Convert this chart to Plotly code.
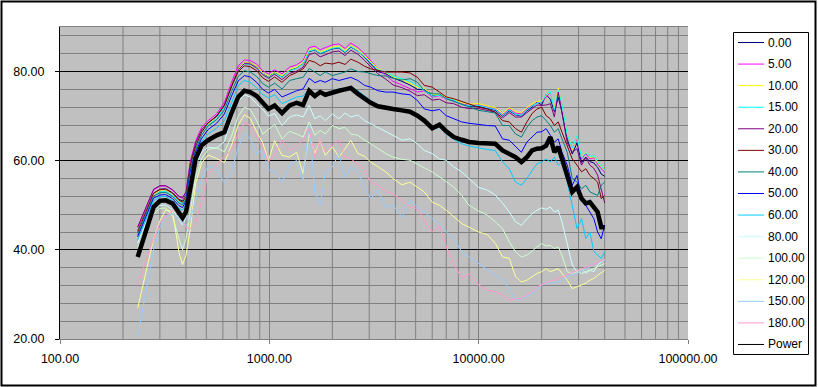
import plotly.graph_objects as go

# ---------------- data ----------------
freq = [235, 260, 280, 300, 320, 345, 370, 385, 400, 420,
        445, 475, 510, 560, 610, 660, 710, 760, 810, 870,
        930, 990, 1060, 1150, 1250, 1350, 1450, 1550, 1650, 1750,
        1850, 2000, 2150, 2300, 2450, 2650, 2850, 3050, 3300, 3600,
        3900, 4300, 4700, 5100, 5500, 6000, 6500, 7000, 7600, 8300,
        9000, 10000, 11000, 12000, 13000, 14000, 15000, 16000, 17000, 18000,
        19000, 20000, 21000, 22000, 23000, 24000, 25000, 26500, 28000, 29500,
        31000, 32500, 34000, 35500, 37000, 38500, 40000]

s_000 = [44.3, 49.3, 52.7, 53.6, 53.7, 52.8, 51.3, 51.0, 52.4, 59.4,
         64.0, 66.9, 68.4, 70.0, 72.5, 77.0, 80.7, 82.0, 81.9, 81.1,
         79.6, 78.9, 79.8, 78.8, 80.3, 80.8, 81.8, 84.5, 84.8, 84.0,
         84.5, 85.1, 85.3, 84.3, 85.5, 84.6, 83.2, 81.8, 80.0, 79.5,
         78.6, 77.8, 77.0, 76.0, 76.0, 74.6, 74.8, 74.0, 73.5, 72.7,
         72.2, 72.2, 71.7, 71.3, 70.0, 71.2, 70.3, 70.0, 71.2, 72.0,
         73.2, 72.5, 74.8, 73.8, 71.0, 74.2, 71.0, 64.8, 61.5, 64.0,
         59.6, 60.8, 59.8, 59.5, 58.5, 57.0, 56.5]

s_005 = [45.1, 50.0, 53.4, 54.3, 54.3, 53.4, 51.9, 51.6, 53.0, 60.0,
         64.5, 67.5, 69.0, 70.5, 73.1, 77.6, 81.3, 82.6, 82.5, 81.7,
         80.2, 79.5, 80.4, 79.5, 81.0, 81.5, 82.5, 85.4, 85.7, 84.9,
         85.4, 86.0, 86.2, 85.2, 86.4, 85.4, 84.0, 82.5, 80.6, 79.2,
         77.8, 77.0, 76.1, 75.4, 75.7, 74.3, 74.6, 73.9, 73.5, 72.8,
         72.4, 72.5, 72.0, 71.6, 70.3, 71.6, 70.7, 70.5, 71.6, 72.4,
         73.0, 73.1, 74.3, 75.4, 71.6, 76.1, 72.4, 65.7, 62.7, 64.9,
         60.4, 61.6, 60.4, 60.7, 59.3, 58.2, 57.5]

s_010 = [44.0, 49.0, 52.5, 53.4, 53.5, 52.6, 51.0, 50.7, 52.2, 59.2,
         63.8, 66.8, 68.3, 69.8, 72.4, 76.9, 80.6, 82.0, 81.9, 81.2,
         79.7, 79.0, 79.9, 79.0, 80.5, 81.0, 82.0, 84.9, 85.2, 84.4,
         84.9, 85.5, 85.7, 84.7, 85.9, 84.9, 83.6, 82.2, 80.6, 79.8,
         78.8, 78.2, 77.4, 76.5, 76.2, 74.8, 74.9, 74.2, 73.8, 73.0,
         72.7, 72.8, 72.3, 71.9, 70.6, 71.9, 71.0, 70.8, 71.9, 72.8,
         73.3, 73.4, 74.6, 75.6, 71.9, 76.3, 72.6, 66.0, 62.5, 65.4,
         60.8, 61.9, 60.7, 61.0, 59.6, 58.6, 57.8]

s_015 = [43.6, 48.6, 52.1, 53.0, 53.1, 52.2, 50.7, 50.4, 51.9, 58.9,
         63.5, 66.5, 68.0, 69.5, 72.1, 76.6, 80.3, 81.7, 81.6, 80.9,
         79.4, 78.7, 79.6, 78.7, 80.2, 80.7, 81.7, 84.6, 84.9, 84.1,
         84.6, 85.2, 85.4, 84.4, 85.6, 84.6, 83.3, 81.9, 80.4, 79.9,
         79.0, 78.4, 77.8, 76.8, 75.8, 74.5, 74.7, 74.0, 73.6, 72.6,
         72.3, 72.4, 71.9, 71.5, 70.1, 71.4, 70.4, 70.2, 71.4, 72.3,
         72.9, 73.2, 74.8, 75.6, 71.4, 75.8, 72.6, 65.9, 62.8, 65.6,
         60.6, 61.8, 60.9, 61.2, 59.8, 58.8, 57.9]

s_020 = [45.1, 50.2, 53.6, 54.4, 54.4, 53.5, 52.0, 51.7, 53.0, 59.6,
         64.0, 66.9, 68.5, 69.9, 72.4, 76.8, 80.4, 81.8, 81.7, 80.8,
         79.3, 78.5, 79.4, 78.2, 79.6, 80.1, 81.0, 83.8, 84.2, 83.3,
         83.8, 84.4, 84.6, 83.6, 84.8, 83.9, 82.5, 81.0, 79.5, 78.3,
         77.0, 76.4, 75.6, 74.6, 74.8, 73.6, 73.8, 73.0, 72.8, 72.0,
         71.7, 71.7, 71.2, 70.9, 69.6, 70.8, 69.8, 69.8, 70.8, 71.7,
         72.5, 72.4, 72.5, 72.8, 69.8, 75.4, 70.5, 64.0, 61.9, 62.7,
         59.0, 60.7, 59.0, 58.3, 56.8, 53.5, 50.5]

s_030 = [43.9, 49.2, 52.7, 53.5, 53.6, 52.7, 51.1, 50.7, 52.0, 59.0,
         63.3, 66.4, 68.5, 70.0, 72.4, 76.6, 80.0, 81.3, 81.1, 80.2,
         78.6, 77.8, 78.8, 77.6, 79.1, 79.8, 80.6, 82.5, 82.1, 81.3,
         81.9, 81.7, 82.1, 81.6, 82.8, 82.1, 81.2, 80.6, 80.2, 79.9,
         79.9, 79.9, 79.7, 78.7, 76.9, 76.5, 75.4, 74.3, 73.9, 73.3,
         72.8, 72.0, 71.6, 70.9, 69.0, 68.7, 67.2, 66.4, 68.7, 70.6,
         71.6, 72.0, 70.1, 69.4, 67.9, 68.7, 66.4, 63.4, 60.4, 59.0,
         57.5, 58.2, 56.7, 56.0, 55.2, 51.5, 52.2]

s_040 = [43.3, 48.6, 52.1, 52.8, 52.9, 52.0, 50.5, 50.1, 51.5, 58.3,
         62.6, 65.7, 67.8, 69.2, 71.4, 75.5, 78.9, 80.2, 79.9, 78.9,
         77.3, 76.5, 77.4, 76.1, 78.0, 78.4, 78.7, 80.7, 79.9, 79.1,
         79.9, 79.1, 79.5, 79.9, 80.6, 80.0, 79.9, 79.5, 79.1, 79.0,
         78.5, 78.1, 78.4, 77.6, 75.7, 75.0, 75.0, 73.9, 73.3, 72.5,
         72.0, 71.3, 71.0, 70.7, 67.9, 67.9, 66.0, 65.3, 67.5, 69.0,
         69.8, 70.1, 69.0, 67.9, 66.4, 67.2, 64.9, 61.9, 56.0, 55.2,
         53.7, 54.5, 53.0, 52.6, 52.2, 54.5, 55.2]

s_050 = [42.9, 48.1, 51.6, 52.3, 52.4, 51.5, 49.9, 49.5, 51.0, 57.6,
         62.0, 65.0, 67.0, 68.4, 70.5, 74.5, 77.9, 79.1, 78.8, 77.6,
         76.0, 75.2, 76.0, 74.3, 75.0, 75.7, 76.1, 78.5, 77.5, 78.0,
         77.6, 78.4, 78.0, 78.4, 78.7, 78.0, 76.9, 76.5, 75.7, 75.4,
         75.4, 75.0, 74.8, 73.5, 71.6, 71.2, 71.5, 70.1, 69.4, 68.7,
         68.4, 68.1, 67.9, 67.8, 64.9, 64.6, 63.1, 61.9, 64.2, 65.3,
         66.4, 66.5, 67.2, 65.7, 64.2, 64.9, 61.9, 59.0, 54.5, 56.7,
         51.5, 50.0, 48.5, 47.0, 44.0, 42.5, 45.5]

s_060 = [42.2, 47.5, 51.0, 51.9, 52.0, 51.0, 49.3, 48.9, 50.3, 56.8,
         61.5, 64.3, 66.0, 67.3, 69.0, 73.0, 76.8, 78.0, 77.6, 76.4,
         74.8, 74.1, 74.8, 72.8, 73.5, 74.3, 74.5, 76.1, 75.0, 75.5,
         75.2, 75.7, 76.1, 76.3, 76.6, 75.7, 74.5, 73.5, 72.5, 72.0,
         71.9, 71.5, 71.2, 70.0, 68.7, 67.0, 67.5, 66.0, 64.8, 63.8,
         63.3, 62.8, 62.5, 62.3, 59.7, 58.2, 55.2, 54.5, 56.0, 57.8,
         59.3, 59.7, 60.4, 59.7, 60.8, 59.0, 59.7, 55.2, 50.0, 44.8,
         47.0, 42.5, 44.0, 39.6, 38.8, 38.1, 39.6]

s_080 = [41.5, 46.5, 49.0, 50.0, 50.0, 49.0, 46.8, 45.6, 47.2, 52.5,
         59.0, 62.0, 63.0, 62.8, 64.3, 69.3, 73.3, 74.8, 74.3, 72.8,
         71.5, 70.0, 70.6, 67.9, 69.8, 70.3, 69.8, 72.4, 69.4, 70.1,
         69.0, 70.5, 69.4, 70.7, 69.8, 70.3, 69.0, 68.3, 67.5, 66.6,
         65.7, 64.6, 64.9, 63.8, 62.3, 61.6, 60.4, 60.1, 58.6, 57.5,
         56.0, 54.0, 53.4, 52.3, 50.5, 48.5, 46.3, 45.5, 47.0, 48.1,
         48.9, 49.4, 49.1, 49.6, 48.5, 48.9, 46.3, 41.0, 36.6, 35.1,
         35.8, 34.7, 35.4, 35.1, 36.6, 37.3, 37.7]

s_100 = [40.5, 45.5, 48.0, 49.3, 49.4, 47.5, 42.5, 40.0, 42.5, 49.0,
         56.5, 60.5, 62.5, 62.9, 62.0, 65.5, 70.0, 72.0, 71.5, 69.0,
         66.0, 67.0, 68.2, 64.9, 66.6, 66.0, 65.3, 68.7, 65.7, 66.8,
         66.0, 67.9, 67.2, 67.5, 66.0, 65.7, 64.6, 63.8, 62.7, 61.6,
         60.8, 60.3, 60.1, 59.3, 58.4, 57.5, 56.3, 55.2, 54.1, 52.2,
         50.0, 48.7, 47.8, 46.3, 44.8, 41.8, 39.6, 38.4, 38.8, 39.7,
         40.7, 41.4, 40.9, 41.0, 40.3, 40.7, 38.8, 35.1, 34.7, 35.1,
         34.7, 35.1, 35.4, 35.8, 36.2, 36.5, 36.9]

s_120 = [26.9, 36.0, 42.5, 46.5, 49.0, 48.5, 39.5, 36.7, 38.8, 45.0,
         55.0, 59.5, 61.3, 60.5, 59.6, 63.5, 68.0, 70.3, 69.5, 66.5,
         64.0, 60.0, 64.5, 61.2, 60.8, 61.9, 57.1, 66.0, 61.6, 64.6,
         61.2, 63.1, 60.8, 62.7, 64.6, 61.6, 61.0, 59.7, 58.6, 57.5,
         56.0, 54.6, 55.2, 54.1, 53.0, 50.7, 50.0, 48.9, 47.4, 45.9,
         45.1, 44.0, 43.4, 41.5, 38.4, 38.1, 34.0, 32.8, 33.2, 34.0,
         34.7, 35.1, 35.8, 35.1, 35.4, 35.8, 34.7, 33.2, 31.3, 31.7,
         32.1, 32.5, 33.2, 33.6, 34.3, 34.9, 35.4]

s_150 = [20.5, 32.0, 40.0, 45.0, 47.5, 48.2, 47.0, 46.0, 45.5, 47.0,
         51.0, 56.0, 58.8, 58.0, 55.0, 57.5, 63.0, 66.1, 65.0, 61.5,
         62.5, 58.0, 57.5, 55.2, 59.0, 60.1, 55.6, 67.9, 53.0, 50.0,
         57.5, 58.6, 61.6, 56.3, 58.6, 57.5, 54.1, 51.5, 53.4, 49.6,
         50.0, 47.4, 51.1, 49.6, 48.5, 47.0, 45.7, 44.0, 42.5, 39.6,
         38.4, 36.9, 35.4, 34.3, 33.2, 31.3, 28.7, 29.1, 29.5, 30.2,
         31.3, 32.1, 32.5, 32.8, 32.5, 32.8, 33.2, 34.0, 34.3, 34.7,
         35.2, 35.8, 36.2, 36.7, 37.2, 37.5, 37.7]

s_180 = [32.1, 38.0, 42.5, 46.0, 47.5, 48.8, 48.5, 46.5, 45.0, 44.8,
         46.0, 51.0, 57.0, 59.0, 61.0, 62.5, 66.0, 68.5, 68.0, 65.5,
         63.0, 59.8, 61.5, 64.6, 62.3, 63.4, 64.6, 67.2, 60.8, 64.6,
         61.9, 63.4, 64.6, 60.8, 60.4, 59.3, 57.8, 55.2, 54.5, 53.0,
         52.6, 51.1, 49.6, 49.3, 46.6, 44.0, 45.5, 40.7, 36.9, 33.6,
         34.7, 32.1, 31.0, 30.6, 29.9, 28.7, 29.0, 29.1, 29.9, 30.6,
         31.7, 32.2, 32.7, 33.0, 33.2, 33.6, 34.0, 34.5, 34.9, 35.3,
         35.7, 36.0, 36.4, 36.7, 37.2, 37.5, 37.9]

power = [38.4, 44.8, 49.6, 51.0, 51.1, 50.4, 48.1, 47.2, 48.5, 54.0,
         60.5, 63.5, 64.6, 65.7, 66.4, 70.7, 74.3, 75.7, 75.4, 74.5,
         73.1, 71.6, 72.4, 70.7, 72.4, 73.0, 72.5, 75.7, 74.5, 75.4,
         74.8, 75.4, 75.7, 76.0, 76.3, 75.0, 73.9, 73.0, 72.2, 71.8,
         71.6, 71.3, 71.0, 70.1, 69.0, 67.3, 68.1, 66.6, 65.3, 64.7,
         64.2, 64.0, 64.0, 63.8, 62.3, 61.6, 60.8, 59.7, 60.8, 62.3,
         62.7, 62.8, 63.4, 65.3, 61.9, 63.1, 60.4, 56.7, 53.0, 54.1,
         51.5, 50.4, 50.7, 49.6, 48.5, 45.1, 45.1]

series_names = ["0.00", "5.00", "10.00", "15.00", "20.00", "30.00", "40.00",
                "50.00", "60.00", "80.00", "100.00", "120.00", "150.00", "180.00"]
series_values = [s_000, s_005, s_010, s_015, s_020, s_030, s_040,
                 s_050, s_060, s_080, s_100, s_120, s_150, s_180]
power_name = "Power"

x_major = [100, 1000, 10000, 100000]
x_major_labels = ["100.00", "1000.00", "10000.00", "100000.00"]
x_minor = [200, 300, 400, 500, 600, 700, 800, 900,
           2000, 3000, 4000, 5000, 6000, 7000, 8000, 9000,
           20000, 30000, 40000, 50000, 60000, 70000, 80000, 90000]
y_major = [20, 40, 60, 80]
y_major_labels = ["20.00", "40.00", "60.00", "80.00"]
y_minor = [24, 28, 32, 36, 44, 48, 52, 56, 64, 68, 72, 76, 84, 88]

# ---------------- styles ----------------
series_colors = ["#000080", "#FF00FF", "#FFFF00", "#00FFFF", "#800080", "#800000",
                 "#008080", "#0000FF", "#00CCFF", "#CCFFFF", "#CCFFCC", "#FFFF99",
                 "#99CCFF", "#FF99CC"]
power_color = "black"
grid_gray = "#808080"

# plot area: x 60..688, y 27..339 px
L, R, T, B = 60, 130, 27, 48
W, H = 818, 387
pw, ph = W - L - R, H - T - B


def px_x(p):
    return (p - L) / pw


def px_y(p):
    return (H - B - p) / ph


fig = go.Figure()
for name, vals, col in zip(series_names, series_values, series_colors):
    fig.add_trace(go.Scatter(x=freq, y=vals, mode="lines", name=name,
                             line=dict(color=col, width=1)))
fig.add_trace(go.Scatter(x=freq, y=power, mode="lines", name=power_name,
                         line=dict(color=power_color, width=4.5)))

shapes = []
annotations = []

# vertical minor gridlines of the log axis
for xv in x_minor:
    shapes.append(dict(type="line", xref="x", yref="paper", x0=xv, x1=xv, y0=0, y1=1,
                       line=dict(color=grid_gray, width=1), layer="below"))

# ---------------- legend (Excel-style box drawn by hand) ----------------
shapes.append(dict(type="rect", xref="paper", yref="paper",
                   x0=px_x(733.5), x1=px_x(808.5), y0=px_y(354.5), y1=px_y(32.5),
                   line=dict(color="black", width=1), fillcolor="white", layer="above"))
legend_entries = list(zip(series_names, series_colors)) + [(power_name, power_color)]
for i, (name, col) in enumerate(legend_entries):
    yc = 42.5 + i * 21.57
    shapes.append(dict(type="line", xref="paper", yref="paper",
                       x0=px_x(738), x1=px_x(764), y0=px_y(yc), y1=px_y(yc),
                       line=dict(color=col, width=1), layer="above"))
    annotations.append(dict(text=name, xref="paper", yref="paper",
                            x=px_x(766), y=px_y(yc), xanchor="left", yanchor="middle",
                            showarrow=False, font=dict(size=12, color="black")))

# outer chart border
shapes.append(dict(type="rect", xref="paper", yref="paper",
                   x0=px_x(1.5), x1=px_x(815.5), y0=px_y(385.5), y1=px_y(1.5),
                   line=dict(color="black", width=2), fillcolor="rgba(0,0,0,0)",
                   layer="above"))

fig.update_layout(
    width=W, height=H,
    margin=dict(l=L, r=R, t=T, b=B, autoexpand=False),
    paper_bgcolor="white",
    plot_bgcolor="#C0C0C0",
    font=dict(family="Liberation Sans, Arial, sans-serif", size=12.5, color="black"),
    showlegend=False,
    xaxis=dict(
        type="log", range=[2, 5],
        tickvals=x_major, ticktext=x_major_labels,
        ticks="outside", ticklen=4, tickcolor=grid_gray,
        ticklabelstandoff=4,
        showgrid=True, gridcolor=grid_gray, gridwidth=1,
        showline=True, linecolor=grid_gray, linewidth=1, mirror=True,
        zeroline=False,
    ),
    yaxis=dict(
        range=[20, 90],
        tickvals=y_major, ticktext=y_major_labels,
        ticks="outside", ticklen=4, tickcolor="black",
        ticklabelstandoff=8,
        showgrid=True, gridcolor="black", gridwidth=1,
        minor=dict(tickvals=y_minor, showgrid=True, gridcolor=grid_gray,
                   gridwidth=1, ticks=""),
        showline=True, linecolor="black", linewidth=1,
        zeroline=False,
    ),
    shapes=shapes,
    annotations=annotations,
)

fig.write_html("out.html")
